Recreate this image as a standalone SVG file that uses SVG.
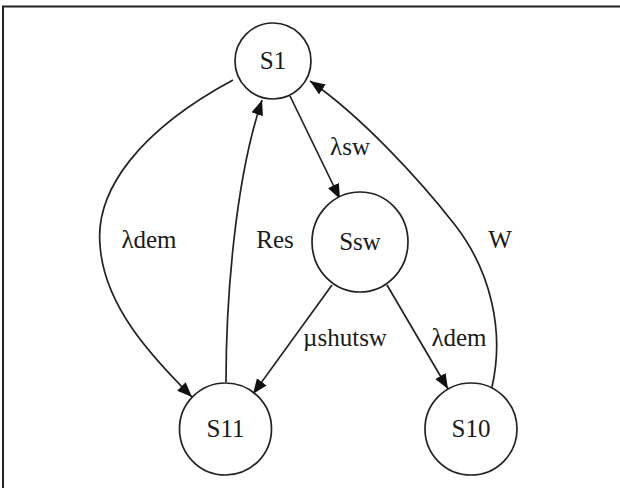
<svg xmlns="http://www.w3.org/2000/svg" width="620" height="488" viewBox="0 0 620 488">
<defs>
<style>
.node ellipse{fill:#fff;stroke:#222;stroke-width:1.7}
.node text,.lbl{font-family:"Liberation Serif","Times New Roman","DejaVu Serif",serif;font-size:25px;fill:#1a1a1a;text-anchor:middle}
.edge{fill:none;stroke:#222;stroke-width:1.7}
.frame{stroke:#222;stroke-width:2;fill:none}
</style>
<marker id="arr" markerUnits="userSpaceOnUse" markerWidth="16" markerHeight="12" refX="15" refY="6" orient="auto">
<path d="M0,0 L15,6 L0,12 Z" fill="#111"/>
</marker>
</defs>
<rect width="620" height="488" fill="#fff"/>
<path class="frame" d="M3,488 V6.5 H620"/>
<g id="connectors">
<path class="edge" d="M233,80 C140,130 95,190 100,245 C104,305 150,355 192,397" marker-end="url(#arr)"/>
<path class="edge" d="M226,382 C226,300 235,180 262,100" marker-end="url(#arr)"/>
<path class="edge" d="M290,96 L340,199" marker-end="url(#arr)"/>
<path class="edge" d="M332,285 L253,394" marker-end="url(#arr)"/>
<path class="edge" d="M387,285 L448,389" marker-end="url(#arr)"/>
<path class="edge" d="M492,387 C505,330 490,270 455,225 C420,180 360,115 310,81" marker-end="url(#arr)"/>
<text class="lbl" x="149" y="248">λdem</text>
<text class="lbl" x="275" y="248">Res</text>
<text class="lbl" x="350" y="155">λsw</text>
<text class="lbl" x="345" y="346">µshutsw</text>
<text class="lbl" x="459" y="346">λdem</text>
<text class="lbl" x="500" y="248">W</text>
</g>
<g id="S1" class="node"><ellipse cx="273" cy="61" rx="38" ry="38"/><text x="273" y="69">S1</text></g>
<g id="Ssw" class="node"><ellipse cx="360" cy="242" rx="48" ry="50"/><text x="360" y="250">Ssw</text></g>
<g id="S11" class="node"><ellipse cx="225.5" cy="429" rx="46" ry="46"/><text x="225.5" y="437">S11</text></g>
<g id="S10" class="node"><ellipse cx="471" cy="429" rx="46" ry="46"/><text x="471" y="437">S10</text></g>
</svg>
